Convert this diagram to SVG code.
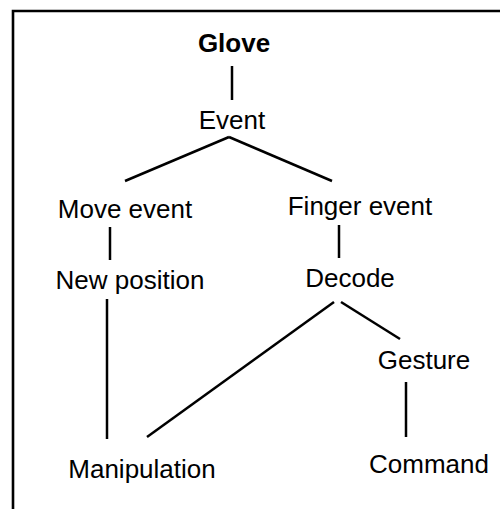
<svg xmlns="http://www.w3.org/2000/svg" width="500" height="509" viewBox="0 0 500 509">
<style>
text{font-family:"Liberation Sans",Arial,sans-serif;font-size:26px;fill:#000;text-anchor:middle}
.b{font-weight:bold}
.c line{stroke:#000;stroke-width:2.5;stroke-linecap:butt}
</style>
<rect width="500" height="509" fill="#fff"/>
<path d="M13,515 V11 H505" fill="none" stroke="#000" stroke-width="2.6"/>
<g class="c" id="connectors">
<line x1="232" y1="66" x2="232" y2="100"/>
<line x1="229" y1="137" x2="125" y2="181"/>
<line x1="229" y1="137" x2="332" y2="181"/>
<line x1="110" y1="227" x2="110" y2="260"/>
<line x1="339" y1="225" x2="339" y2="258"/>
<line x1="107" y1="299" x2="107" y2="439"/>
<line x1="334" y1="302" x2="147" y2="437"/>
<line x1="341" y1="302" x2="400" y2="339"/>
<line x1="406" y1="382" x2="406" y2="437"/>
</g>
<g id="glove"><text class="b" x="234" y="52">Glove</text></g>
<g id="event"><text x="232" y="129">Event</text></g>
<g id="move"><text x="125" y="218">Move event</text></g>
<g id="finger"><text x="360" y="215">Finger event</text></g>
<g id="newpos"><text x="130" y="289">New position</text></g>
<g id="decode"><text x="350" y="287">Decode</text></g>
<g id="gesture"><text x="424" y="369">Gesture</text></g>
<g id="manip"><text x="142" y="478">Manipulation</text></g>
<g id="command"><text x="429" y="473">Command</text></g>
</svg>
